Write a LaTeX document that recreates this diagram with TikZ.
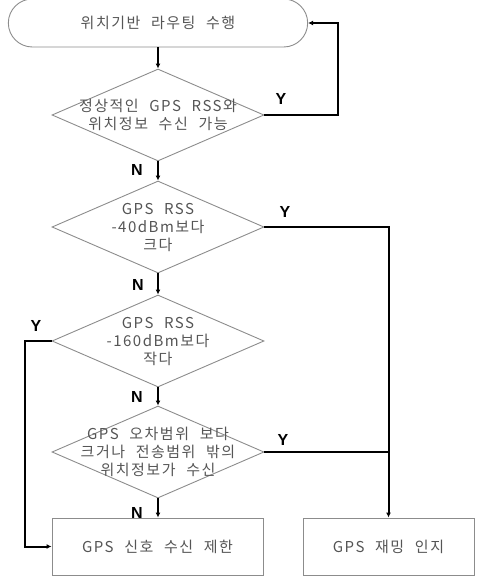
\documentclass[tikz,border=0pt]{standalone}
\usepackage{fontspec}
\usepackage{xcolor}
\usetikzlibrary{shapes.geometric, shapes.misc, arrows.meta}
\newfontfamily\kofont[LetterSpace=10, WordSpace=2.2]{Noto Sans CJK KR}
\newfontfamily\ynfont{Liberation Sans}
\definecolor{boxgray}{HTML}{8C8C8C}
\definecolor{txtgray}{HTML}{555555}

\begin{document}
\begin{tikzpicture}[x=1pt, y=-1pt,
        term/.style={rounded rectangle, draw=boxgray, line width=0.9pt, minimum width=306pt, minimum height=48pt},
        dia/.style={diamond, draw=boxgray, line width=0.9pt, aspect=2.3, minimum width=212pt, minimum height=92pt, inner sep=0pt},
        proc/.style={rectangle, draw=boxgray, line width=0.9pt, minimum height=57pt},
        txt/.style={font=\kofont\fontsize{15}{18}\selectfont, text=txtgray, align=center, inner sep=0pt},
        yn/.style={font=\ynfont\bfseries\fontsize{16}{16}\selectfont, inner sep=0pt},
        wire/.style={line width=2pt},
        arr/.style={wire, -{Latex[length=5pt, width=5pt]}}]
        	\useasboundingbox (0,0) rectangle (485,577);
        	% Shapes:
        	\node[term] (T) at (158,23){};
        	\node[dia] (D1) at (158,115){};
        	\node[dia] (D2) at (158,227){};
        	\node[dia] (D3) at (158,341){};
        	\node[dia] (D4) at (158,452){};
        	\node[proc, minimum width=211pt] (P1) at (157.5,546.5){};
        	\node[proc, minimum width=171pt] (P2) at (388.5,546.5){};
        	% Texts:
        	\node[txt] (T1) at (T.center){위치기반 라우팅 수행};
        	\node[txt] (T2) at (D1.center){정상적인 GPS RSS와\\위치정보 수신 가능};
        	\node[txt] (T3) at (D2.center){GPS RSS\\-40dBm보다\\크다};
        	\node[txt] (T4) at (D3.center){GPS RSS\\-160dBm보다\\작다};
        	\node[txt] (T5) at (D4.center){GPS 오차범위 보다\\크거나 전송범위 밖의\\위치정보가 수신};
        	\node[txt] (T6) at (P1.center){GPS 신호 수신 제한};
        	\node[txt] (T7) at (P2.center){GPS 재밍 인지};
        	\node[yn] (Y1) at (281,99){Y};
        	\node[yn] (Y2) at (285,212){Y};
        	\node[yn] (Y3) at (36,326){Y};
        	\node[yn] (Y4) at (283,440){Y};
        	\node[yn] (N1) at (137,170){N};
        	\node[yn] (N2) at (138,285){N};
        	\node[yn] (N3) at (137,397){N};
        	\node[yn] (N4) at (137,513){N};
        	% Wires:
        	\coordinate (C1) at (338,115);
        	\coordinate (C3) at (25,341);
        	\draw[arr] (T.south) -- (D1.north);
        	\draw[arr] (D1.south) -- (D2.north);
        	\draw[arr] (D2.south) -- (D3.north);
        	\draw[arr] (D3.south) -- (D4.north);
        	\draw[arr] (D4.south) -- (D4.south |- P1.north);
        	\draw[arr] (D1.east) -- (C1) |- (T.east);
        	\draw[arr] (D2.east) -| (P2.north);
        	\draw[wire] (D4.east) -- (D4.east -| P2.north);
        	\draw[arr] (D3.west) -- (C3) |- (P1.west);
        \end{tikzpicture}
\end{document}
